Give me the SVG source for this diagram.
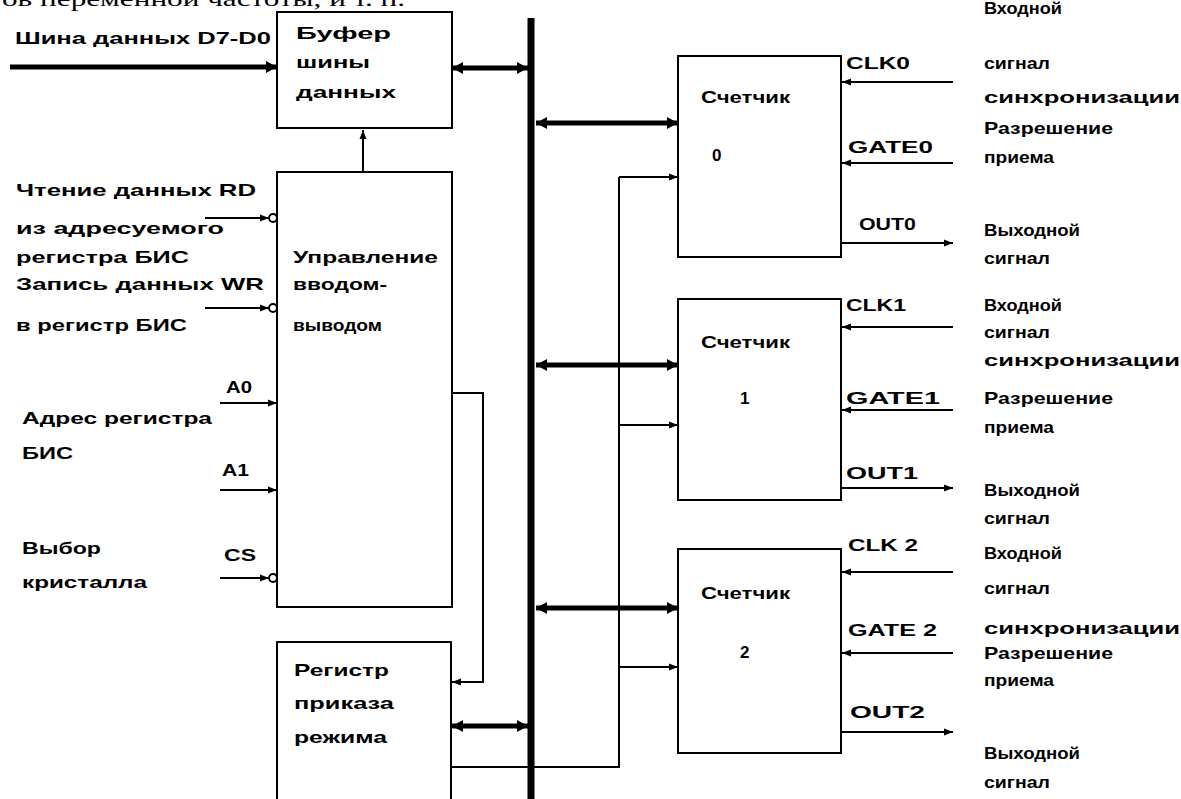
<svg xmlns="http://www.w3.org/2000/svg" width="1181" height="799" viewBox="0 0 1181 799">
<style>
.t{font-family:"Liberation Sans",Arial,sans-serif;font-weight:bold;font-size:17px;fill:#000}
.b{fill:none;stroke:#000;stroke-width:2}
.w{fill:none;stroke:#000;stroke-width:2}
.k{fill:none;stroke:#000;stroke-width:5}
.inv{fill:#fff;stroke:#000;stroke-width:2}
</style>
<defs>
<marker id="a" markerUnits="userSpaceOnUse" markerWidth="10" markerHeight="8" refX="9" refY="4" orient="auto-start-reverse"><path d="M0,0.5 L9,4 L0,7.5 z" fill="#000"/></marker>
<marker id="A" markerUnits="userSpaceOnUse" markerWidth="12" markerHeight="12" refX="11" refY="6" orient="auto-start-reverse"><path d="M0,0 L11,6 L0,12 z" fill="#000"/></marker>
</defs>
<rect width="1181" height="799" fill="#fff"/>
<text x="2" y="6" font-family="Liberation Serif,serif" font-size="22" textLength="403" lengthAdjust="spacingAndGlyphs">ов переменной частоты, и т. п.</text>

<g id="connectors">
<line class="k" x1="10" y1="67" x2="277" y2="67" marker-end="url(#A)"/>
<line class="k" x1="452" y1="68" x2="528" y2="68" marker-start="url(#A)" marker-end="url(#A)"/>
<line class="w" x1="363" y1="172" x2="363" y2="130" marker-end="url(#a)"/>
<line class="w" x1="205" y1="218" x2="269" y2="218" marker-end="url(#a)"/>
<line class="w" x1="205" y1="308" x2="269" y2="308" marker-end="url(#a)"/>
<line class="w" x1="220" y1="403" x2="277" y2="403" marker-end="url(#a)"/>
<line class="w" x1="220" y1="490" x2="277" y2="490" marker-end="url(#a)"/>
<line class="w" x1="220" y1="578" x2="269" y2="578" marker-end="url(#a)"/>
<circle class="inv" cx="273" cy="218" r="4"/>
<circle class="inv" cx="273" cy="308" r="4"/>
<circle class="inv" cx="273" cy="578" r="4"/>
<polyline class="w" points="452,393 483,393 483,682 452,682" marker-end="url(#a)"/>
<line class="k" x1="452" y1="726" x2="528" y2="726" marker-start="url(#A)" marker-end="url(#A)"/>
<polyline class="w" points="451,767 619,767 619,177"/>
<line class="w" x1="619" y1="177" x2="678" y2="177" marker-end="url(#a)"/>
<line class="w" x1="619" y1="425" x2="678" y2="425" marker-end="url(#a)"/>
<line class="w" x1="619" y1="667" x2="678" y2="667" marker-end="url(#a)"/>
<line class="k" x1="536" y1="123" x2="678" y2="123" marker-start="url(#A)" marker-end="url(#A)"/>
<line class="k" x1="536" y1="365" x2="678" y2="365" marker-start="url(#A)" marker-end="url(#A)"/>
<line class="k" x1="536" y1="608" x2="678" y2="608" marker-start="url(#A)" marker-end="url(#A)"/>
<line class="w" x1="953" y1="82" x2="842" y2="82" marker-end="url(#a)"/>
<line class="w" x1="953" y1="163" x2="842" y2="163" marker-end="url(#a)"/>
<line class="w" x1="841" y1="243" x2="953" y2="243" marker-end="url(#a)"/>
<line class="w" x1="953" y1="327" x2="842" y2="327" marker-end="url(#a)"/>
<line class="w" x1="953" y1="410" x2="842" y2="410" marker-end="url(#a)"/>
<line class="w" x1="841" y1="488" x2="953" y2="488" marker-end="url(#a)"/>
<line class="w" x1="953" y1="572" x2="842" y2="572" marker-end="url(#a)"/>
<line class="w" x1="953" y1="653" x2="842" y2="653" marker-end="url(#a)"/>
<line class="w" x1="841" y1="732" x2="953" y2="732" marker-end="url(#a)"/>
<line x1="531" y1="18" x2="531" y2="799" stroke="#000" stroke-width="7"/>
</g>

<g id="buffer">
<rect class="b" x="277" y="12" width="175" height="116"/>
<text class="t" x="296" y="39" textLength="95" lengthAdjust="spacingAndGlyphs">Буфер</text>
<text class="t" x="296" y="68" textLength="74" lengthAdjust="spacingAndGlyphs">шины</text>
<text class="t" x="296" y="98" textLength="100" lengthAdjust="spacingAndGlyphs">данных</text>
</g>

<g id="control">
<rect class="b" x="277" y="172" width="175" height="435"/>
<text class="t" x="293" y="263" textLength="145" lengthAdjust="spacingAndGlyphs">Управление</text>
<text class="t" x="293" y="290" textLength="94" lengthAdjust="spacingAndGlyphs">вводом-</text>
<text class="t" x="293" y="331" textLength="89" lengthAdjust="spacingAndGlyphs">выводом</text>
</g>

<g id="register">
<path class="b" d="M277,805 V642 H451 V805"/>
<text class="t" x="294" y="676" textLength="95" lengthAdjust="spacingAndGlyphs">Регистр</text>
<text class="t" x="294" y="709" textLength="100" lengthAdjust="spacingAndGlyphs">приказа</text>
<text class="t" x="294" y="743" textLength="93" lengthAdjust="spacingAndGlyphs">режима</text>
</g>

<g id="left-labels">
<text class="t" x="15" y="44" textLength="256" lengthAdjust="spacingAndGlyphs">Шина данных D7-D0</text>
<text class="t" x="16" y="196" textLength="240" lengthAdjust="spacingAndGlyphs">Чтение данных RD</text>
<text class="t" x="16" y="234" textLength="208" lengthAdjust="spacingAndGlyphs">из адресуемого</text>
<text class="t" x="16" y="263" textLength="173" lengthAdjust="spacingAndGlyphs">регистра БИС</text>
<text class="t" x="16" y="290" textLength="248" lengthAdjust="spacingAndGlyphs">Запись данных WR</text>
<text class="t" x="16" y="331" textLength="171" lengthAdjust="spacingAndGlyphs">в регистр БИС</text>
<text class="t" x="226" y="393" textLength="26" lengthAdjust="spacingAndGlyphs">A0</text>
<text class="t" x="22" y="424" textLength="190" lengthAdjust="spacingAndGlyphs">Адрес регистра</text>
<text class="t" x="22" y="459" textLength="51" lengthAdjust="spacingAndGlyphs">БИС</text>
<text class="t" x="222" y="476" textLength="27" lengthAdjust="spacingAndGlyphs">A1</text>
<text class="t" x="22" y="554" textLength="79" lengthAdjust="spacingAndGlyphs">Выбор</text>
<text class="t" x="22" y="588" textLength="125" lengthAdjust="spacingAndGlyphs">кристалла</text>
<text class="t" x="224" y="561" textLength="32" lengthAdjust="spacingAndGlyphs">CS</text>
</g>

<g id="counter0">
<rect class="b" x="678" y="56" width="163" height="201"/>
<text class="t" x="701" y="103" textLength="89" lengthAdjust="spacingAndGlyphs">Счетчик</text>
<text class="t" x="712" y="161">0</text>
<text class="t" x="846" y="69" textLength="64" lengthAdjust="spacingAndGlyphs">CLK0</text>
<text class="t" x="848" y="153" textLength="85" lengthAdjust="spacingAndGlyphs">GATE0</text>
<text class="t" x="859" y="230" textLength="57" lengthAdjust="spacingAndGlyphs">OUT0</text>
<text class="t" x="984" y="14" textLength="78" lengthAdjust="spacingAndGlyphs">Входной</text>
<text class="t" x="984" y="69" textLength="66" lengthAdjust="spacingAndGlyphs">сигнал</text>
<text class="t" x="984" y="103" textLength="196" lengthAdjust="spacingAndGlyphs">синхронизации</text>
<text class="t" x="984" y="134" textLength="129" lengthAdjust="spacingAndGlyphs">Разрешение</text>
<text class="t" x="984" y="163" textLength="70" lengthAdjust="spacingAndGlyphs">приема</text>
<text class="t" x="984" y="236" textLength="96" lengthAdjust="spacingAndGlyphs">Выходной</text>
<text class="t" x="984" y="264" textLength="66" lengthAdjust="spacingAndGlyphs">сигнал</text>
</g>

<g id="counter1">
<rect class="b" x="678" y="299" width="163" height="201"/>
<text class="t" x="701" y="348" textLength="89" lengthAdjust="spacingAndGlyphs">Счетчик</text>
<text class="t" x="740" y="404">1</text>
<text class="t" x="846" y="311" textLength="60" lengthAdjust="spacingAndGlyphs">CLK1</text>
<text class="t" x="846" y="404" textLength="94" lengthAdjust="spacingAndGlyphs">GATE1</text>
<text class="t" x="846" y="479" textLength="72" lengthAdjust="spacingAndGlyphs">OUT1</text>
<text class="t" x="984" y="311" textLength="78" lengthAdjust="spacingAndGlyphs">Входной</text>
<text class="t" x="984" y="338" textLength="66" lengthAdjust="spacingAndGlyphs">сигнал</text>
<text class="t" x="984" y="366" textLength="196" lengthAdjust="spacingAndGlyphs">синхронизации</text>
<text class="t" x="984" y="404" textLength="129" lengthAdjust="spacingAndGlyphs">Разрешение</text>
<text class="t" x="984" y="433" textLength="70" lengthAdjust="spacingAndGlyphs">приема</text>
<text class="t" x="984" y="496" textLength="96" lengthAdjust="spacingAndGlyphs">Выходной</text>
<text class="t" x="984" y="524" textLength="66" lengthAdjust="spacingAndGlyphs">сигнал</text>
</g>

<g id="counter2">
<rect class="b" x="678" y="549" width="163" height="204"/>
<text class="t" x="701" y="599" textLength="89" lengthAdjust="spacingAndGlyphs">Счетчик</text>
<text class="t" x="740" y="658">2</text>
<text class="t" x="848" y="551" textLength="70" lengthAdjust="spacingAndGlyphs">CLK 2</text>
<text class="t" x="848" y="636" textLength="89" lengthAdjust="spacingAndGlyphs">GATE 2</text>
<text class="t" x="850" y="718" textLength="75" lengthAdjust="spacingAndGlyphs">OUT2</text>
<text class="t" x="984" y="559" textLength="78" lengthAdjust="spacingAndGlyphs">Входной</text>
<text class="t" x="984" y="594" textLength="66" lengthAdjust="spacingAndGlyphs">сигнал</text>
<text class="t" x="984" y="634" textLength="196" lengthAdjust="spacingAndGlyphs">синхронизации</text>
<text class="t" x="984" y="659" textLength="129" lengthAdjust="spacingAndGlyphs">Разрешение</text>
<text class="t" x="984" y="686" textLength="70" lengthAdjust="spacingAndGlyphs">приема</text>
<text class="t" x="984" y="759" textLength="96" lengthAdjust="spacingAndGlyphs">Выходной</text>
<text class="t" x="984" y="788" textLength="66" lengthAdjust="spacingAndGlyphs">сигнал</text>
</g>
</svg>
